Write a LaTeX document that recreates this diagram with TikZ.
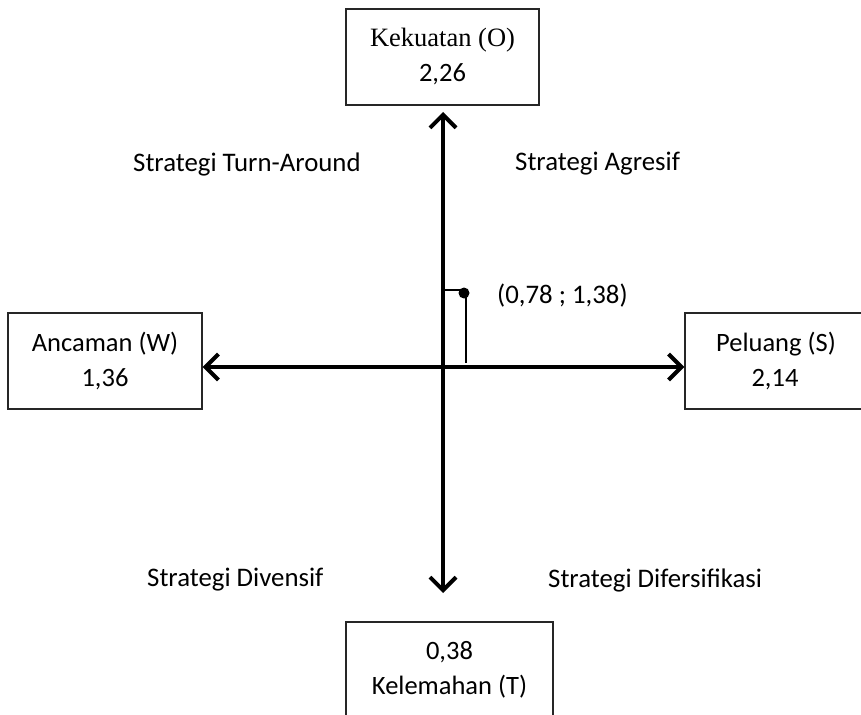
\documentclass[tikz,border=0pt]{standalone}
\usepackage{fontspec}
\setmainfont{Carlito}
\newfontfamily\serifface{Liberation Serif}
\usetikzlibrary{arrows.meta,calc}
\begin{document}
\begin{tikzpicture}[x=1pt,y=-1pt,
  box/.style={draw=black!85,line width=1.3pt,inner sep=0pt,align=center,font=\fontsize{26.5}{35}\selectfont},
  lbl/.style={font=\fontsize{26.8}{30}\selectfont,inner sep=0pt,anchor=west},
  axis/.style={line width=4pt,{Straight Barb[length=13pt,width=26pt,line width=4pt]}-{Straight Barb[length=13pt,width=26pt,line width=4pt]}},
  thin/.style={line width=1.4pt}]
\useasboundingbox (0,0) rectangle (861,714);
\clip (0,0) rectangle (861,714);
\node[box,minimum width=193pt,minimum height=96pt] (O) at (442.5,57) {{\serifface Kekuatan (O)}\\2,26};
\node[box,minimum width=194pt,minimum height=96pt] (W) at (105,361) {Ancaman (W)\\1,36};
\node[box,minimum width=194pt,minimum height=96pt] (S) at (782,361) {\hspace*{-12pt}Peluang (S)\\\hspace*{-14pt}2,14};
\node[box,minimum width=207pt,minimum height=96pt] (T) at (449.5,670) {0,38\\Kelemahan (T)};
\coordinate (top) at (443,112);
\coordinate (bot) at (443,593);
\coordinate (lft) at ($(W.east)+(0,6)$);
\coordinate (rgt) at ($(S.west)+(0,6)$);
\draw[axis] (top) -- (bot);
\draw[axis] (lft) -- (rgt);
\coordinate (P) at (464,293);
\coordinate (Pa) at (443,290);
\coordinate (Pb) at (466,363);
\draw[thin] (Pa) -- (464,290);
\draw[thin] (466,294) -- (Pb);
\fill (P) circle (5.5pt);
\node[lbl] (pl) at (497,296) {(0,78 ; 1,38)};
\node[lbl] (ta) at (133,164) {Strategi Turn-Around};
\node[lbl] (ag) at (515,164) {Strategi Agresif};
\node[lbl] (dv) at (147,580) {Strategi Divensif};
\node[lbl] (df) at (548,580) {Strategi Difersifikasi};
\end{tikzpicture}
\end{document}
